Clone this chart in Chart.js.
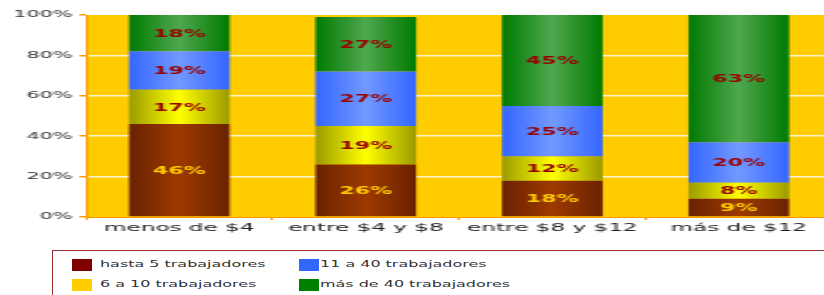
<!DOCTYPE html>
<html lang="es">
<head>
<meta charset="UTF-8">
<title>Trabajadores por rango</title>
<script src="https://cdn.jsdelivr.net/npm/chart.js@4.4.0/dist/chart.umd.min.js"></script>
<style>
    body { margin: 0; background: #fff; overflow: hidden; width: 824px; height: 295px; position: relative; }
    #wrap { position: absolute; left: 0; top: 0; width: 380px; height: 240px; transform: scaleX(2.2); transform-origin: 0 0; }
    #legend { position: absolute; left: 52px; top: 250px; width: 800px; height: 60px; border: 1.5px solid #9b3030; box-sizing: border-box; }
    .item { position: absolute; height: 14px; }
    .sw { position: absolute; left: 0; top: 1px; width: 20px; height: 12px; }
    .tx { position: absolute; top: 0px; white-space: nowrap; font: 9.5px "DejaVu Sans", sans-serif; color: #333; transform: scaleX(1.68); transform-origin: 0 0; }
</style>
</head>
<body>
<div id="wrap"><canvas id="chart" width="380" height="240"></canvas></div>
<div id="legend"></div>
<script>
    const categories = ['menos de $4', 'entre $4 y $8', 'entre $8 y $12', 'más de $12'];
    const seriesNames = ['hasta 5 trabajadores', '6 a 10 trabajadores', '11 a 40 trabajadores', 'más de 40 trabajadores'];
    const hasta5 = [46, 26, 18, 9];
    const de6a10 = [17, 19, 12, 8];
    const de11a40 = [19, 27, 25, 20];
    const mas40 = [18, 27, 45, 63];
    const yTicks = [0, 20, 40, 60, 80, 100];

    const swatch = ['#800000', '#FFCC00', '#3366FF', '#008000'];
    const edge = ['#6a2200', '#9a9a00', '#3366ff', '#007a00'];
    const center = ['#9e3a00', '#ffff00', '#7399ff', '#4fa84f'];
    const labelColor = ['#FFCC00', '#990000', '#990000', '#990000'];
    const barPct = 0.54;

    function gradient(i) {
        return ctx => {
            const chart = ctx.chart;
            const xs = chart.scales.x;
            if (!xs || ctx.dataIndex === undefined) return edge[i];
            const cx = xs.getPixelForValue(ctx.dataIndex);
            const w = xs.width / categories.length * barPct;
            if (!isFinite(cx) || !isFinite(w) || w <= 0) return edge[i];
            const g = chart.ctx.createLinearGradient(cx - w / 2, 0, cx + w / 2, 0);
            g.addColorStop(0, edge[i]);
            g.addColorStop(0.5, center[i]);
            g.addColorStop(1, edge[i]);
            return g;
        };
    }

    const allData = [hasta5, de6a10, de11a40, mas40];
    const datasets = allData.map((d, i) => ({
        label: seriesNames[i],
        data: d,
        backgroundColor: gradient(i),
        borderWidth: 0,
        categoryPercentage: 1,
        barPercentage: barPct
    }));

    const plotBg = {
        id: 'plotBg',
        beforeDraw(chart) {
            const a = chart.chartArea, c = chart.ctx;
            c.save();
            c.fillStyle = '#FFCC00';
            c.fillRect(a.left, a.top, a.right - a.left, a.bottom - a.top);
            c.restore();
        }
    };

    const valueLabels = {
        id: 'valueLabels',
        afterDatasetsDraw(chart) {
            const c = chart.ctx;
            c.save();
            c.font = 'bold 10px "DejaVu Sans"';
            c.textAlign = 'center';
            c.textBaseline = 'middle';
            chart.data.datasets.forEach((ds, i) => {
                chart.getDatasetMeta(i).data.forEach((el, j) => {
                    c.fillStyle = labelColor[i];
                    c.fillText(ds.data[j] + '%', el.x, (el.y + el.base) / 2 + 1);
                });
            });
            c.restore();
        }
    };

    const chart = new Chart(document.getElementById('chart'), {
        type: 'bar',
        data: { labels: categories, datasets: datasets },
        options: {
            responsive: false,
            animation: false,
            layout: { padding: { top: 15, right: 1.8, left: 0, bottom: 0 } },
            plugins: { legend: { display: false }, tooltip: { enabled: false } },
            scales: {
                x: {
                    stacked: true,
                    afterFit(s) { s.height = 23; },
                    grid: { drawOnChartArea: false, tickLength: 3, tickColor: '#FF9900', tickWidth: 1 },
                    border: { color: '#FF9900', width: 1 },
                    ticks: { color: '#222', padding: 2, font: { family: 'DejaVu Sans', size: 10.5 } }
                },
                y: {
                    stacked: true,
                    min: 0,
                    max: 100,
                    afterFit(s) { s.width = 39.1; },
                    afterBuildTicks(s) { s.ticks = yTicks.map(v => ({ value: v })); },
                    grid: {
                        color: c => (c.tick && (c.tick.value === 0 || c.tick.value === 100)) ? 'rgba(0,0,0,0)' : '#FFF4D0',
                        lineWidth: 1.5,
                        tickLength: 3,
                        tickColor: '#FF9900'
                    },
                    border: { color: '#FF9900', width: 1 },
                    ticks: {
                        color: '#333',
                        padding: 3,
                        font: { family: 'DejaVu Sans', size: 9.5 },
                        callback: v => v + '%'
                    }
                }
            }
        },
        plugins: [plotBg, valueLabels]
    });

    // legend: two columns, filled top to bottom
    const legend = document.getElementById('legend');
    chart.data.datasets.forEach((ds, i) => {
        const col = Math.floor(i / 2), row = i % 2;
        const item = document.createElement('div');
        item.className = 'item';
        item.style.left = (col === 0 ? 19 : 246) + 'px';
        item.style.top = (row === 0 ? 7 : 27) + 'px';
        const sw = document.createElement('div');
        sw.className = 'sw';
        sw.style.background = swatch[i];
        const tx = document.createElement('div');
        tx.className = 'tx';
        tx.style.left = (col === 0 ? 28 : 21) + 'px';
        tx.textContent = ds.label;
        item.appendChild(sw);
        item.appendChild(tx);
        legend.appendChild(item);
    });
</script>
</body>
</html>
